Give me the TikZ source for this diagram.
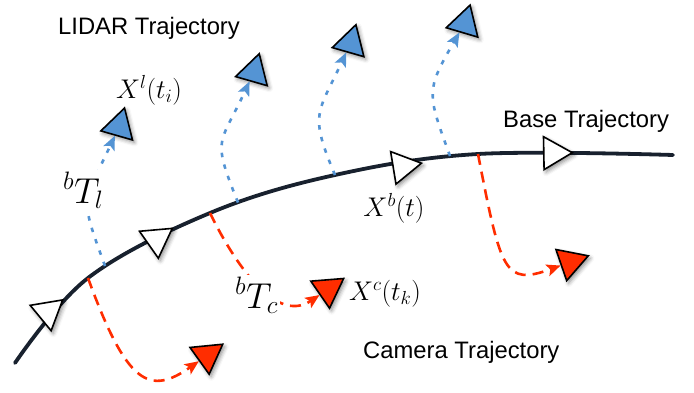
\RequirePackage{fix-cm}
\documentclass[tikz,border=0pt]{standalone}
\usepackage{fontspec}
\setsansfont{Liberation Sans}
\usetikzlibrary{arrows.meta,positioning,shapes.geometric,shadows.blur}
\definecolor{navy}{HTML}{18212E}
\definecolor{lidarblue}{HTML}{5494D4}
\definecolor{camred}{HTML}{FF2D00}
\tikzset{
  pose/.style={regular polygon,regular polygon sides=3,minimum size=38pt,inner sep=0pt,draw=black,line width=1.6pt,fill=white,blur shadow={shadow xshift=2pt,shadow yshift=-2.5pt,shadow blur radius=4pt,shadow opacity=45}},
  lidar/.style={pose,fill=lidarblue},
  camera/.style={pose,fill=camred},
  trajectory/.style={draw=navy,line width=3.8pt,line cap=round},
  lidarlink/.style={-{Stealth[length=14pt,width=12pt,inset=3pt]},draw=lidarblue,line width=2.6pt,dash pattern=on 4.5pt off 7.5pt},
  cameralink/.style={-{Stealth[length=14pt,width=12pt,inset=3pt]},draw=camred,line width=2.6pt,dash pattern=on 11pt off 7pt},
  caption/.style={font=\sffamily\fontsize{23.8}{28}\selectfont,inner sep=0pt,anchor=base west},
  pointlabel/.style={font=\fontsize{27}{32}\selectfont,inner sep=0pt},
  framelabel/.style={font=\fontsize{36}{42}\selectfont,fill=white,inner sep=2pt,anchor=base west}
}
\begin{document}
\begin{tikzpicture}[x=1pt,y=1pt]
\useasboundingbox (0,0) rectangle (694,392);

\draw[trajectory] plot[smooth,tension=0.6] coordinates {(15,29) (88,114) (210,179) (335,217) (478,238) (673,237)};

\coordinate (c1) at (88,114);
\coordinate (l1) at (105,126);
\coordinate (c2) at (210,179);
\coordinate (l2) at (238,189.5);
\coordinate (l3) at (335,217);
\coordinate (l4) at (450,236);
\coordinate (c3) at (478,238);

\node[pose,shape border rotate=69.5] (w1) at (48,80) {};
\node[pose,shape border rotate=65] (w2) at (156.7,152.7) {};
\node[pose,shape border rotate=39.4] (w3) at (402.7,225.7) {};
\node[pose,shape border rotate=31] (w4) at (553.3,239) {};

\node[lidar,shape border rotate=104] (b1) at (119.3,265.7) {};
\node[lidar,shape border rotate=104] (b2) at (254,320) {};
\node[lidar,shape border rotate=104] (b3) at (350.7,349) {};
\node[lidar,shape border rotate=103.5] (b4) at (464.7,368.7) {};

\node[camera,shape border rotate=65.6] (r1) at (207.3,36.7) {};
\node[camera,shape border rotate=64.6] (r2) at (328,102.7) {};
\node[camera,shape border rotate=49] (r3) at (570.3,130) {};

\draw[lidarlink] (l1) to[out=110,in=245,looseness=1.5] (b1);
\draw[lidarlink] (l2) to[out=112,in=245,looseness=1.5] (b2);
\draw[lidarlink] (l3) to[out=113,in=245,looseness=1.4] (b3);
\draw[lidarlink] (l4) to[out=110,in=240,looseness=1.4] (b4);

\draw[cameralink] (c1) to[out=-70,in=215,out distance=115pt,in distance=60pt] (r1);
\draw[cameralink] (c2) to[out=-64,in=214] (r2);
\draw[cameralink] (c3) to[out=-79,in=200,out distance=120pt,in distance=60pt] (r3);

\node[framelabel] (tl) at (61,189) {$^bT_l$};
\node[framelabel] (tc) at (233,84) {$^bT_c$};

\node[pointlabel] (xl) at (149,302) {$X^l(t_i)$};
\node[pointlabel] (xb) at (394,183.5) {$X^b(t)$};
\node[pointlabel] (xc) at (385,98.5) {$X^c(t_k)$};

\node[caption] (lidarcap) at (58,357) {LIDAR Trajectory};
\node[caption] (basecap) at (503,265) {Base Trajectory};
\node[caption] (cameracap) at (363,34) {Camera Trajectory};
\end{tikzpicture}
\end{document}
